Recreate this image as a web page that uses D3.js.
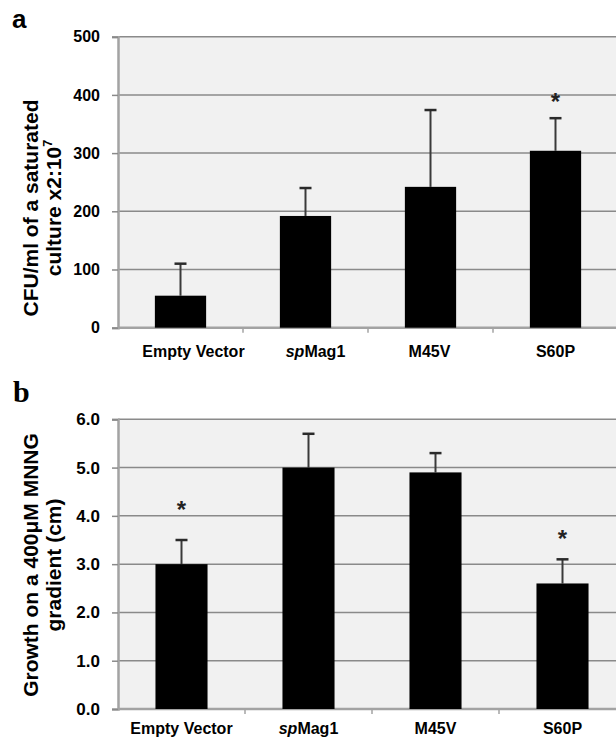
<!DOCTYPE html>
<html>
<head>
<meta charset="utf-8">
<script src="https://cdn.jsdelivr.net/npm/d3@7"></script>
<style>
  body { margin: 0; background: #fff; }
  svg { display: block; font-family: "Liberation Sans", Arial, sans-serif; }
</style>
</head>
<body>
<svg id="chart" width="616" height="739"></svg>
<script>
// data
var categories = ['Empty Vector', 'spMag1', 'M45V', 'S60P'];

var cfuValues = [55, 192, 242, 304];
var cfuErrors = [110, 240, 374, 360];      // top of error bar
var cfuStars  = [null, null, null, 395];   // asterisk height in data units
var cfuTicks  = [0, 100, 200, 300, 400, 500];

var growthValues = [3.0, 5.0, 4.9, 2.6];
var growthErrors = [3.5, 5.7, 5.3, 3.1];
var growthStars  = [4.2, null, null, 3.6];
var growthTicks  = [0, 1, 2, 3, 4, 5, 6];

var svg = d3.select('#chart');

function drawPanel(opt) {
  var g = svg.append('g');

  var x = d3.scaleBand()
    .domain(categories)
    .range([opt.left, opt.right])
    .paddingInner(0)
    .paddingOuter(0);

  var y = d3.scaleLinear()
    .domain([0, d3.max(opt.ticks)])
    .range([opt.bottom, opt.top]);

  // plot background
  g.append('rect')
    .attr('x', opt.left)
    .attr('y', opt.top)
    .attr('width', opt.right - opt.left)
    .attr('height', opt.bottom - opt.top)
    .attr('fill', '#f1f1f1');

  // gridlines
  g.selectAll('line.grid')
    .data(opt.ticks)
    .enter()
    .append('line')
    .attr('class', 'grid')
    .attr('x1', opt.left)
    .attr('x2', opt.right)
    .attr('y1', function(d) { return y(d); })
    .attr('y2', function(d) { return y(d); })
    .attr('stroke', '#8a8a8a')
    .attr('stroke-width', 1.5);

  // y axis
  var yAxis = d3.axisLeft(y)
    .tickValues(opt.ticks)
    .tickFormat(d3.format(opt.fmt))
    .tickSize(6)
    .tickPadding(12);

  var ya = g.append('g')
    .attr('transform', 'translate(' + opt.left + ',0)')
    .call(yAxis);
  ya.select('.domain').attr('stroke', '#a3a3a3').attr('stroke-width', 2.5);
  ya.selectAll('.tick line').attr('stroke', '#8a8a8a').attr('stroke-width', 1.5);
  ya.selectAll('.tick text')
    .attr('fill', '#000')
    .style('font-size', opt.tickFont + 'px')
    .style('font-weight', 'bold')
    .style('font-family', '"Liberation Sans", Arial, sans-serif');

  // x axis
  var xa = g.append('g')
    .attr('transform', 'translate(0,' + opt.bottom + ')');
  xa.append('line')
    .attr('x1', opt.left)
    .attr('x2', opt.right)
    .attr('stroke', '#a3a3a3')
    .attr('stroke-width', 2.5);
  xa.selectAll('line.sep')
    .data(categories.slice(1))
    .enter()
    .append('line')
    .attr('class', 'sep')
    .attr('x1', function(d) { return x(d); })
    .attr('x2', function(d) { return x(d); })
    .attr('y1', 0)
    .attr('y2', 5)
    .attr('stroke', '#a3a3a3')
    .attr('stroke-width', 1.5);

  var labels = xa.selectAll('text.cat')
    .data(categories)
    .enter()
    .append('text')
    .attr('class', 'cat')
    .attr('x', function(d, i) { return x(d) + x.bandwidth() / 2 + opt.labelNudge[i]; })
    .attr('y', opt.labelDy)
    .attr('text-anchor', 'middle')
    .style('font-size', '16px')
    .style('font-weight', 'bold');
  labels.each(function(d) {
    var t = d3.select(this);
    if (d.indexOf('sp') === 0) {
      t.append('tspan').style('font-style', 'italic').text('sp');
      t.append('tspan').text(d.slice(2));
    } else {
      t.text(d);
    }
  });

  var barW = x.bandwidth() * 0.41;

  // error bars (upper only)
  var err = g.selectAll('g.err')
    .data(opt.values)
    .enter()
    .append('g')
    .attr('class', 'err');
  err.append('line')
    .attr('x1', function(d, i) { return x(categories[i]) + x.bandwidth() / 2; })
    .attr('x2', function(d, i) { return x(categories[i]) + x.bandwidth() / 2; })
    .attr('y1', function(d) { return y(d); })
    .attr('y2', function(d, i) { return y(opt.errors[i]); })
    .attr('stroke', '#3a3a3a')
    .attr('stroke-width', 2);
  err.append('line')
    .attr('x1', function(d, i) { return x(categories[i]) + x.bandwidth() / 2 - 6; })
    .attr('x2', function(d, i) { return x(categories[i]) + x.bandwidth() / 2 + 6; })
    .attr('y1', function(d, i) { return y(opt.errors[i]); })
    .attr('y2', function(d, i) { return y(opt.errors[i]); })
    .attr('stroke', '#2a2a2a')
    .attr('stroke-width', 2.5);

  // bars
  g.selectAll('rect.bar')
    .data(opt.values)
    .enter()
    .append('rect')
    .attr('class', 'bar')
    .attr('x', function(d, i) { return x(categories[i]) + (x.bandwidth() - barW) / 2; })
    .attr('y', function(d) { return y(d); })
    .attr('width', barW)
    .attr('height', function(d) { return opt.bottom - y(d); })
    .attr('fill', '#000');

  // significance asterisks
  g.selectAll('text.star')
    .data(opt.stars)
    .enter()
    .filter(function(d) { return d !== null; })
    .append('text')
    .attr('class', 'star')
    .attr('x', function(d) { return x(categories[opt.stars.indexOf(d)]) + x.bandwidth() / 2; })
    .attr('y', function(d) { return y(d) + 12; })
    .attr('text-anchor', 'middle')
    .style('font-size', '24px')
    .style('font-weight', 'bold')
    .attr('fill', '#222')
    .text('*');

  // y axis title, two lines
  var title = g.append('text')
    .attr('transform', 'translate(' + 38 + ',' + opt.titleY + ') rotate(-90)')
    .attr('text-anchor', 'middle')
    .style('font-size', opt.titleFont + 'px')
    .style('font-weight', 'bold');
  title.append('tspan').attr('x', 0).attr('y', 0).text(opt.title[0]);
  title.append('tspan').attr('x', 0).attr('y', opt.titleFont * 1.08).text(opt.title[1]);
  if (opt.title[2]) {
    title.append('tspan')
      .attr('dy', -opt.titleFont * 0.4)
      .style('font-size', (opt.titleFont * 0.6) + 'px')
      .text(opt.title[2]);
  }

  // panel letter
  g.append('text')
    .attr('x', opt.letterX)
    .attr('y', opt.letterY)
    .style('font-size', opt.letterSize + 'px')
    .style('font-weight', 'bold')
    .style('font-family', opt.letterFont)
    .text(opt.letter);
}

drawPanel({
  left: 118, right: 618, top: 36.7, bottom: 327.7,
  values: cfuValues, errors: cfuErrors, stars: cfuStars, ticks: cfuTicks,
  fmt: 'd', tickFont: 16,
  labelDy: 29, labelNudge: [13, 10, -1, 0],
  title: ['CFU/ml of a saturated', 'culture x2:10', '7'], titleY: 208, titleFont: 21,
  letter: 'a', letterX: 12, letterY: 28, letterSize: 26,
  letterFont: '"Liberation Sans", Arial, sans-serif'
});

drawPanel({
  left: 118, right: 626, top: 419.3, bottom: 709,
  values: growthValues, errors: growthErrors, stars: growthStars, ticks: growthTicks,
  fmt: '.1f', tickFont: 17,
  labelDy: 25, labelNudge: [0, 0, 0, 0],
  title: ['Growth on a 400\u03bcM MNNG', 'gradient (cm)'], titleY: 565, titleFont: 21,
  letter: 'b', letterX: 13, letterY: 402, letterSize: 30,
  letterFont: '"Liberation Serif", "Times New Roman", serif'
});
</script>
</body>
</html>
